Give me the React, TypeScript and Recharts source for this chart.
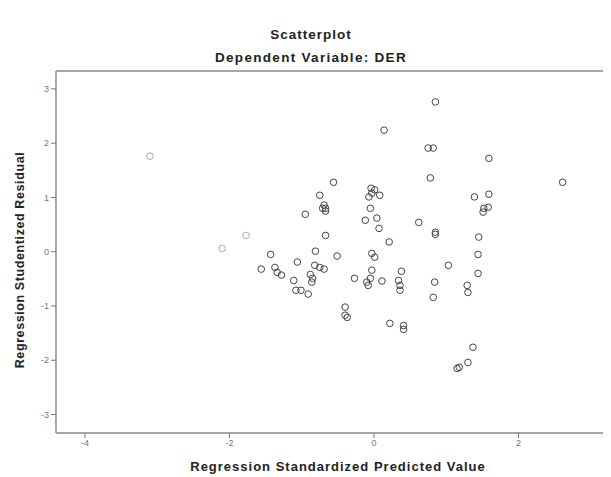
import React from "react";
import { ScatterChart, Scatter, XAxis, YAxis, ReferenceLine } from "recharts";

const predicted = [
  0.85, 0.14, 0.75, 0.82, 1.59, 0.78, 2.61, -0.56, -0.75, -0.69,
  -0.67, -0.71, -0.67, -0.95, -0.04, 0.01, -0.07, 0.08, -0.03, -0.05,
  -0.12, 0.04, 0.07, 0.62, 0.85, 0.85, 1.39, 1.59, 1.52, 1.58,
  1.51, 1.45, 0.21, -0.67, -0.81, -0.51, -0.03, 0.01, 1.44, -1.43,
  -1.06, -0.82, -0.75, -0.69, -1.56, -1.37, -1.34, -1.28, -0.88, -0.85,
  -0.86, -1.11, -1.08, -1.01, -0.91, -0.03, -0.05, -0.1, -0.08, -0.27,
  0.11, 0.38, 0.34, 0.36, 0.36, -0.4, -0.4, -0.37, 0.22, 0.41,
  0.41, 1.03, 1.44, 0.84, 0.82, 1.29, 1.3, 1.37, 1.3, 1.18, 1.15,
];
const residual = [
  2.76, 2.24, 1.91, 1.91, 1.72, 1.36, 1.28, 1.28, 1.04, 0.86,
  0.8, 0.8, 0.75, 0.69, 1.17, 1.14, 1.01, 1.04, 1.08, 0.8,
  0.58, 0.62, 0.43, 0.54, 0.36, 0.32, 1.01, 1.06, 0.8, 0.82,
  0.73, 0.27, 0.18, 0.3, 0.01, -0.08, -0.03, -0.1, -0.05, -0.05,
  -0.19, -0.25, -0.29, -0.32, -0.32, -0.29, -0.38, -0.43, -0.42, -0.49,
  -0.56, -0.53, -0.71, -0.71, -0.78, -0.34, -0.49, -0.56, -0.62, -0.49,
  -0.54, -0.36, -0.53, -0.62, -0.71, -1.02, -1.17, -1.21, -1.32, -1.36,
  -1.43, -0.25, -0.4, -0.56, -0.84, -0.62, -0.75, -1.76, -2.04, -2.13, -2.15,
];
const faintPredicted = [-3.1, -2.1, -1.77];
const faintResidual = [1.76, 0.06, 0.3];

const xTicks = [-4, -2, 0, 2];
const yTicks = [-3, -2, -1, 0, 1, 2, 3];

const X_MIN = -4.4;
const X_MAX = 3.28;
const Y_MIN = -3.34;
const Y_MAX = 3.33;

const points = predicted.map((x, i) => ({ x, y: residual[i] }));
const faintPoints = faintPredicted.map((x, i) => ({ x, y: faintResidual[i] }));

const Ring = (props: any) => {
  const { cx, cy, stroke } = props;
  if (cx == null || cy == null) return null;
  return <circle cx={cx} cy={cy} r={3.3} fill="none" stroke={stroke} strokeWidth={1} />;
};

const FONT = "'Liberation Sans', Arial, sans-serif";

const titleStyle: React.CSSProperties = {
  position: "absolute",
  left: 0,
  width: 606,
  textAlign: "center",
  fontSize: 13.5,
  fontWeight: "bold",
  color: "#222",
  letterSpacing: 1.0,
  lineHeight: "16px",
};

export default function App() {
  return (
    <div style={{ position: "relative", width: 603, height: 469, fontFamily: FONT, overflow: "hidden" }}>
      <div style={{ ...titleStyle, top: 19 }}>Scatterplot</div>
      <div style={{ ...titleStyle, top: 42, letterSpacing: 1.3 }}>Dependent Variable: DER</div>
      <div
        style={{
          position: "absolute",
          left: 12 - 150,
          top: 252 - 8,
          width: 300,
          height: 16,
          lineHeight: "16px",
          textAlign: "center",
          transform: "rotate(-90deg)",
          fontSize: 12.5,
          fontWeight: "bold",
          color: "#222",
          letterSpacing: 0.6,
        }}
      >
        Regression Studentized Residual
      </div>
      <div
        style={{
          position: "absolute",
          left: 330 - 200,
          width: 400,
          top: 451,
          lineHeight: "16px",
          textAlign: "center",
          fontSize: 13,
          fontWeight: "bold",
          color: "#222",
          letterSpacing: 1.0,
        }}
      >
        Regression Standardized Predicted Value
      </div>
      <ScatterChart width={603} height={469} margin={{ top: 63, right: 0, bottom: 0, left: 0 }}>
        <XAxis
          type="number"
          dataKey="x"
          domain={[X_MIN, X_MAX]}
          ticks={xTicks}
          height={44}
          allowDataOverflow
          axisLine={{ stroke: "#888", strokeWidth: 1.5 }}
          tickLine={{ stroke: "#777" }}
          tickSize={5}
          tick={{ fontSize: 9, fill: "#777", fontFamily: FONT }}
        />
        <YAxis
          type="number"
          dataKey="y"
          domain={[Y_MIN, Y_MAX]}
          ticks={yTicks}
          width={48}
          allowDataOverflow
          axisLine={{ stroke: "#888", strokeWidth: 1.5 }}
          tickLine={{ stroke: "#777" }}
          tickSize={5}
          tick={{ fontSize: 9, fill: "#777", fontFamily: FONT }}
        />
        <ReferenceLine y={Y_MAX} stroke="#888" strokeWidth={1.5} />
        <Scatter data={faintPoints} stroke="#aaa" shape={<Ring />} isAnimationActive={false} />
        <Scatter data={points} stroke="#444" shape={<Ring />} isAnimationActive={false} />
      </ScatterChart>
    </div>
  );
}
